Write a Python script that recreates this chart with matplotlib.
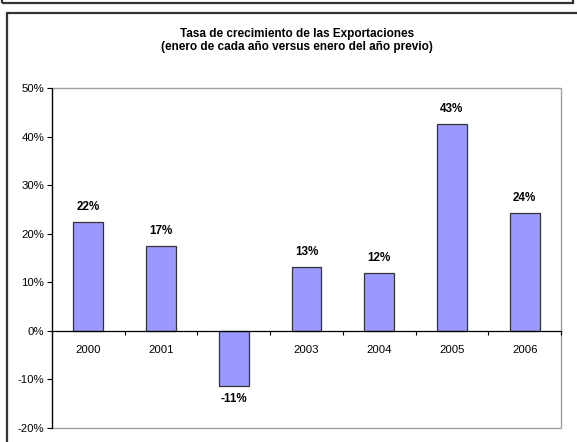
import matplotlib
matplotlib.use("Agg")
import matplotlib.pyplot as plt
from matplotlib.patches import Rectangle
import numpy as np

years = ["2000", "2001", "2002", "2003", "2004", "2005", "2006"]
growth = [22.4, 17.4, -11.3, 13.2, 11.9, 42.6, 24.3]
yticks = [-20, -10, 0, 10, 20, 30, 40, 50]
title_lines = ["Tasa de crecimiento de las Exportaciones",
               "(enero de cada año versus enero del año previo)"]

plt.rcParams['font.family'] = ['Liberation Sans', 'DejaVu Sans']

W, H = 577, 442
fig = plt.figure(figsize=(W / 100, H / 100), dpi=100)

# outer frames
fig.patches.append(Rectangle((2 / W, 1 - 3 / H), 571 / W, 20 / H, transform=fig.transFigure,
                             fill=False, edgecolor='#333333', linewidth=1.6))
fig.patches.append(Rectangle((7 / W, -0.2), 1.0, 1 - 13 / H + 0.2, transform=fig.transFigure,
                             fill=False, edgecolor='#333333', linewidth=1.6))

ax = fig.add_axes([52 / W, 1 - 428 / H, (561 - 52) / W, (428 - 88) / H])
x = np.arange(len(years))
ax.bar(x, growth, width=0.41, color='#9999ff', edgecolor='#333333', linewidth=0.9, zorder=3)
ax.set_xlim(-0.5, len(years) - 0.5)
ax.set_ylim(yticks[0], yticks[-1])

# plot-area border
ax.add_patch(Rectangle((0, 0), 1, 1, transform=ax.transAxes, fill=False,
                       edgecolor='#a0a0a0', linewidth=1.0, zorder=1, clip_on=False))
for s in ['top', 'right']:
    ax.spines[s].set_visible(False)
ax.spines['bottom'].set_position(('data', 0))
ax.spines['bottom'].set_color('black')
ax.spines['bottom'].set_linewidth(0.9)
ax.spines['bottom'].set_zorder(4)
ax.spines['left'].set_color('black')
ax.spines['left'].set_linewidth(0.9)

ax.set_yticks(yticks)
ax.set_yticklabels([f"{v}%" for v in yticks], fontsize=8.2)
ax.tick_params(axis='y', length=3.5, width=0.8, pad=2)

ax.set_xticks(np.arange(-0.5, len(years) + 0.5, 1.0))
ax.set_xticklabels([])
ax.tick_params(axis='x', which='major', length=3, width=0.8, direction='out')
ax.set_xticks(x, minor=True)
ax.set_xticklabels(years, minor=True, fontsize=8.2)
ax.tick_params(axis='x', which='minor', length=0, pad=10)

for xi, v in zip(x, growth):
    if v >= 0:
        ax.annotate(f"{v:.0f}%", (xi, v), xytext=(0, 9), textcoords='offset pixels',
                    ha='center', va='bottom', fontsize=8.4, fontweight='bold')
    else:
        ax.annotate(f"{v:.0f}%", (xi, v), xytext=(0, -7), textcoords='offset pixels',
                    ha='center', va='top', fontsize=8.4, fontweight='bold')

fig.text(297 / W, 1 - 34 / H, title_lines[0], ha='center', va='center',
         fontsize=8.5, fontweight='bold')
fig.text(297 / W, 1 - 46.7 / H, title_lines[1], ha='center', va='center',
         fontsize=8.5, fontweight='bold')

fig.savefig("out.png", dpi=100)
